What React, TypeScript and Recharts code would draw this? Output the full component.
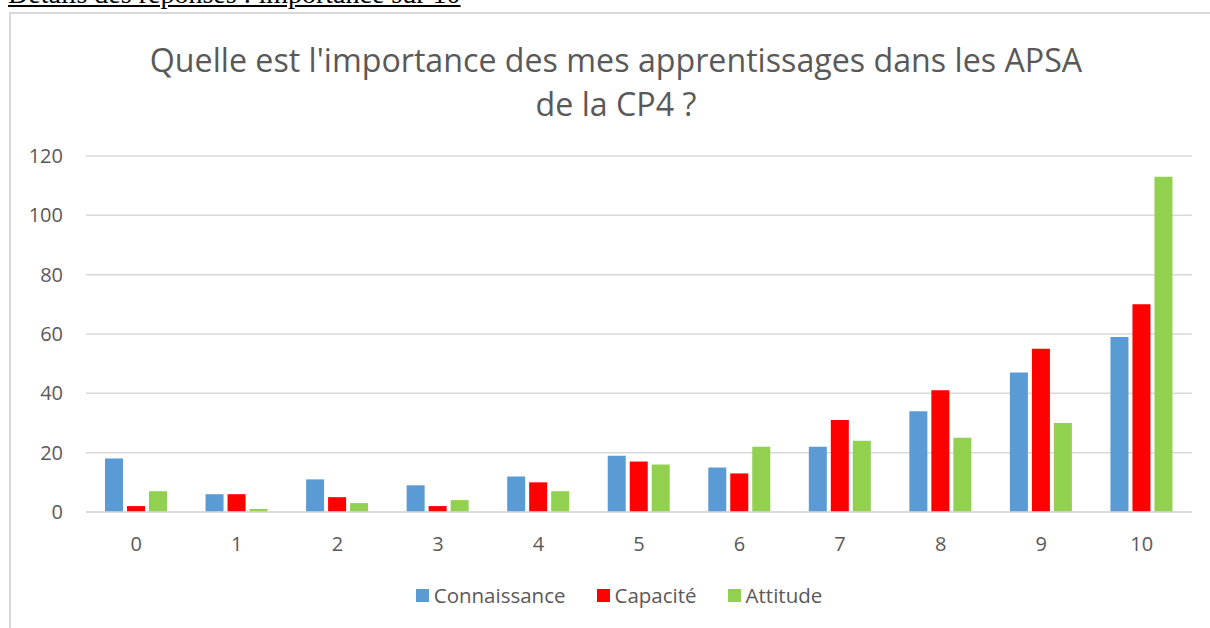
import { BarChart, Bar, XAxis, YAxis, CartesianGrid } from 'recharts';

const categories = ['0', '1', '2', '3', '4', '5', '6', '7', '8', '9', '10'];
const connaissance = [18, 6, 11, 9, 12, 19, 15, 22, 34, 47, 59];
const capacite = [2, 6, 5, 2, 10, 17, 13, 31, 41, 55, 70];
const attitude = [7, 1, 3, 4, 7, 16, 22, 24, 25, 30, 113];
const yTicks = [0, 20, 40, 60, 80, 100, 120];

const series = [
    { key: 'Connaissance', color: '#5b9bd5' },
    { key: 'Capacité', color: '#ff0000' },
    { key: 'Attitude', color: '#92d050' },
];

const data = categories.map((c, i) => ({
    name: c,
    Connaissance: connaissance[i],
    'Capacité': capacite[i],
    Attitude: attitude[i],
}));

const font = '"Open Sans", sans-serif';
const grey = '#595959';

export default function App() {
    return (
        <div style={{ position: 'absolute', left: 0, top: 0, width: 1210, height: 628, overflow: 'hidden', background: '#fff' }}>
            <div style={{ position: 'absolute', left: 8, top: -20.5, fontFamily: '"Liberation Serif", serif', fontSize: 28, lineHeight: 1, textDecoration: 'underline', whiteSpace: 'nowrap' }}>
                Détails des réponses : importance sur 10
            </div>
            <div style={{ position: 'absolute', left: 9, top: 12, width: 1240, height: 660, borderTop: '2px solid #d9d9d9', borderLeft: '2px solid #d9d9d9' }} />
            <div style={{ position: 'absolute', left: 0, top: 38, width: 1232, textAlign: 'center', fontFamily: font, fontSize: 32.2, lineHeight: '44px', color: grey }}>
                Quelle est l'importance des mes apprentissages dans les APSA<br />de la CP4 ?
            </div>
            <div style={{ position: 'absolute', left: 0, top: 0 }}>
                <BarChart width={1210} height={628} data={data} barSize={18} barGap={4}
                    margin={{ top: 156, right: 18, left: 26, bottom: 86 }}>
                    <CartesianGrid vertical={false} stroke="#d9d9d9" strokeWidth={1.5} />
                    <XAxis dataKey="name" height={30} axisLine={{ stroke: '#d9d9d9', strokeWidth: 1.5 }} tickLine={false}
                        tickMargin={19} tick={{ fill: grey, fontSize: 20, fontFamily: font }} />
                    <YAxis width={60} domain={[0, 120]} ticks={yTicks} axisLine={false} tickLine={false}
                        tickMargin={17} tick={{ fill: grey, fontSize: 20, fontFamily: font }} />
                    {series.map((s) => (
                        <Bar key={s.key} dataKey={s.key} fill={s.color} isAnimationActive={false} />
                    ))}
                </BarChart>
            </div>
            <div style={{ position: 'absolute', left: 28, width: 1182, top: 581, display: 'flex', justifyContent: 'center', fontFamily: font, fontSize: 20.5, color: grey, lineHeight: '28px' }}>
                {series.map((s) => (
                    <div key={s.key} style={{ display: 'flex', alignItems: 'center', margin: '0 15.5px' }}>
                        <span style={{ width: 13, height: 13, background: s.color, display: 'inline-block', marginRight: 5 }} />
                        <span>{s.key}</span>
                    </div>
                ))}
            </div>
        </div>
    );
}
